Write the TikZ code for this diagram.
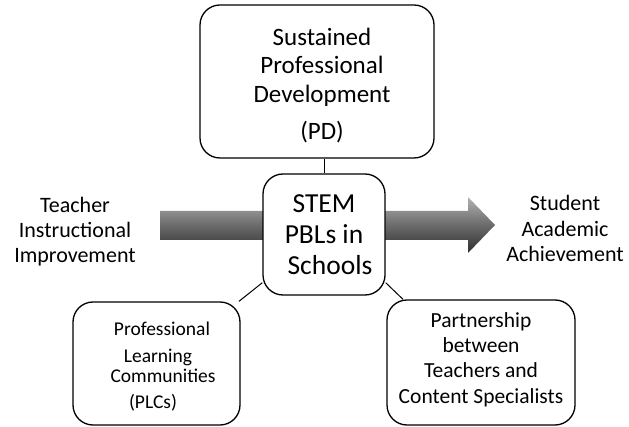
\documentclass[tikz,border=0pt]{standalone}
\usepackage{fontspec}
\setmainfont{Carlito}
\begin{document}
\begin{tikzpicture}[x=1pt,y=-1pt,
  box/.style={draw=black, line width=1.3pt, rounded corners=20pt, fill=white, inner sep=0pt},
  link/.style={draw=black, line width=1pt},
  txt/.style={align=center, inner sep=0pt, anchor=base},
  bigarrow/.style={top color=black!30, bottom color=black!82, middle color=black!58}
]
\useasboundingbox (0,0) rectangle (629,427);
% shaded arrow (behind the central box)
\shade[bigarrow] (160,211) -- (468,211) -- (468,197) -- (495,225) -- (468,253) -- (468,240) -- (160,240) -- cycle;
% boxes
\node[box, minimum width=234pt, minimum height=153pt] (pd) at (317,81.5) {};
\node[box, minimum width=122pt, minimum height=121pt] (stem) at (324,234.5) {};
\node[box, minimum width=167pt, minimum height=123pt] (plc) at (156.5,363.5) {};
\node[box, minimum width=188pt, minimum height=125pt] (pts) at (481,362.5) {};
% connectors
\draw[link] (stem.north) -- (stem.north |- pd.south);
\draw[link] (stem.218.5) -- (plc.37.4);
\draw[link] (stem.-38.5) -- (pts.141.7);
% texts (anchor base = baseline of the last line)
\node[txt, font=\fontsize{25}{28.5}\selectfont] (pdt) at (322,140) {Sustained\\Professional\\Development\\[9pt](PD)};
\node[txt, font=\fontsize{27.5}{31}\selectfont] (stemt) at (324,275) {STEM\\PBLs in\\\hspace*{12pt}Schools};
\node[txt, font=\fontsize{22}{25}\selectfont] (left) at (75,263) {Teacher\\Instructional\\Improvement};
\node[txt, font=\fontsize{22}{25.5}\selectfont] (right) at (565,262) {Student\\Academic\\Achievement};
\node[txt, font=\fontsize{21.5}{25.3}\selectfont] (ptst) at (481,403) {Partnership\\between\\Teachers and\\Content Specialists};
\node[txt, font=\fontsize{19.5}{21}\selectfont] (plct) at (158,408) {\hspace*{8pt}Professional\\[6pt]Learning\hspace*{4pt}\\\hspace*{10pt}Communities\\[4pt](PLCs)\hspace*{10pt}};
\end{tikzpicture}
\end{document}
